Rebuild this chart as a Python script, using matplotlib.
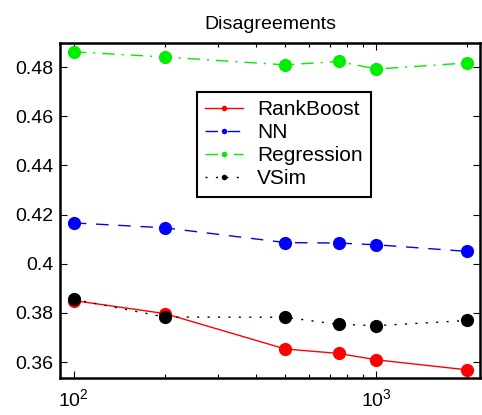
import matplotlib
matplotlib.use("Agg")
import matplotlib.pyplot as plt

plt.rcParams['font.family'] = ['Liberation Sans', 'DejaVu Sans']

SIZES = [100, 200, 500, 750, 1000, 2000]
RANKBOOST = [0.385, 0.3797, 0.3653, 0.3635, 0.3609, 0.3568]
NN = [0.4166, 0.4146, 0.4086, 0.4084, 0.4077, 0.4050]
REGRESSION = [0.4862, 0.4841, 0.4809, 0.4823, 0.4792, 0.4817]
VSIM = [0.3855, 0.3783, 0.3782, 0.3753, 0.3748, 0.3769]

SERIES = [
    ("RankBoost", RANKBOOST, "#ff0000", "-"),
    ("NN", NN, "#0000ff", (0, (9, 7))),
    ("Regression", REGRESSION, "#00ee00", (0, (9, 5, 1.5, 5))),
    ("VSim", VSIM, "#000000", (0, (1.5, 6))),
]


def _main():
    fig = plt.figure(figsize=(4.82, 4.15), dpi=100)
    axis = fig.add_axes([60 / 482, 37 / 415, 420 / 482, 335 / 415])
    for label, vals, col, style in SERIES:
        axis.plot(SIZES, vals, linestyle=style, color=col, linewidth=1.0,
                  marker="o", markersize=9.5, markeredgewidth=0, label=label)
    axis.set_xscale("log")
    axis.set_xlim(90, 2200)
    axis.set_ylim(0.3535, 0.4898)
    axis.set_yticks([0.36, 0.38, 0.4, 0.42, 0.44, 0.46, 0.48])
    axis.set_yticklabels(["0.36", "0.38", "0.4", "0.42", "0.44", "0.46", "0.48"])
    axis.tick_params(which="both", direction="in", top=True, right=True, labelsize=14)
    axis.tick_params(which="major", length=5, width=0.8)
    axis.tick_params(which="minor", length=3, width=0.8)
    axis.tick_params(axis="x", pad=7)
    axis.tick_params(axis="y", pad=5)
    for spine in axis.spines.values():
        spine.set_linewidth(1.8)
    axis.set_title("Disagreements", fontsize=14, pad=10)
    leg = axis.legend(loc="upper left", bbox_to_anchor=(0.326, 0.855), fontsize=15,
                      markerscale=0.42, handlelength=1.8, borderpad=0.4,
                      labelspacing=0.2, handletextpad=0.7, fancybox=False,
                      framealpha=1, edgecolor="black", borderaxespad=0)
    leg.get_frame().set_linewidth(1.5)
    fig.savefig("out.png", dpi=100)


if __name__ == "__main__":
    _main()
